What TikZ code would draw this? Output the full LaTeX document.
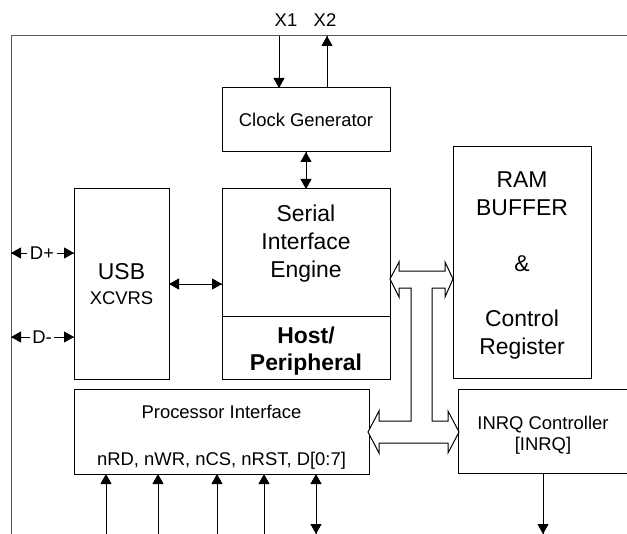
\documentclass[tikz,border=0pt]{standalone}
\usepackage{fontspec}
\setmainfont{Liberation Sans}
\usetikzlibrary{positioning, arrows.meta, decorations.markings, calc}

\begin{document}
\begin{tikzpicture}[%
		x=1bp, y=-1bp,
		line width=1bp,
		unit/.style={
			rectangle,
			anchor=north west,
			inner sep=0pt,
			outer sep=0pt,
			align=center,
			black,
			draw
		},
		bigtext/.style={
			font=\fontsize{23}{28.5}\selectfont
		},
		smalltext/.style={
			font=\fontsize{18.5}{22}\selectfont
		},
		pinlabel/.style={
			inner sep=2bp,
			font=\fontsize{18.5}{22}\selectfont
		},
		sigarrow/.style={
			decoration={markings,mark=at position 1 with {\arrow[>={Triangle[length=10bp,width=11bp]}]{>}}},
			postaction={decorate}
		},
		bidiarrow/.style={
			decoration={markings,
				mark=at position 0 with {\arrowreversed[>={Triangle[length=10bp,width=11bp]}]{>}},
				mark=at position 1 with {\arrow[>={Triangle[length=10bp,width=11bp]}]{>}}},
			postaction={decorate}
		},
		bus/.style={
			fill=white,
			line join=miter,
			draw
		}]

		\useasboundingbox (0,0) rectangle (627,534);
		\clip (0,0) rectangle (627,534);

		% CHIP OUTLINE

		\node (chip) [unit, draw=black!65, minimum width=650bp, minimum height=540bp] at (11,36) {};

		% BLOCKS

		\node (clock) [unit, smalltext, minimum width=168bp, minimum height=64bp] at (222,88) {Clock Generator};
		\node (sie) [unit, minimum width=168bp, minimum height=127bp] at (222,189) {};
		\node (sietext) [bigtext, align=center] at ([yshift=9bp]sie.center) {Serial\\Interface\\Engine};
		\node (host) [unit, font=\fontsize{23}{27}\selectfont\bfseries, minimum width=168bp, minimum height=63bp] at (222,316) {\rule{0pt}{24bp}Host/\\Peripheral};
		\node (usb) [unit, smalltext, minimum width=95bp, minimum height=190bp] at (74,189) {{\fontsize{23}{28.5}\selectfont USB}\\[3bp]XCVRS};
		\node (ram) [unit, bigtext, minimum width=138bp, minimum height=231bp] at (453,147) {\rule{0pt}{22bp}RAM\\BUFFER\\[27bp]\&\\[27bp]Control\\Register};
		\node (proc) [unit, smalltext, minimum width=295bp, minimum height=85bp] at (74,389) {\rule{0pt}{24bp}Processor Interface\\[25bp]nRD, nWR, nCS, nRST, D[0:7]};
		\node (inrq) [unit, smalltext, minimum width=170bp, minimum height=84bp] at (458,389) {\rule{0pt}{22bp}INRQ Controller\\[-1bp]{[INRQ]}};

		% PIN LABELS

		\node (x1) [pinlabel] at (286,20) {X1};
		\node (x2) [pinlabel] at (325,20) {X2};
		\node (dp) [pinlabel] at (42,253) {D+};
		\node (dm) [pinlabel] at (42,337) {D-};

		% CONNECTIONS

		\draw[sigarrow] (chip.north -| 279,0) -- (clock.north -| 279,0);
		\draw[sigarrow] (clock.north -| 327,0) -- (chip.north -| 327,0);
		\draw[bidiarrow] (clock.south) -- (sie.north);
		\draw[bidiarrow] (usb.east) -- (usb.east -| sie.west);

		\draw[sigarrow] (dp.west) -- (dp.west -| chip.west);
		\draw[sigarrow] (dp.east) -- (dp.east -| usb.west);
		\draw[sigarrow] (dm.west) -- (dm.west -| chip.west);
		\draw[sigarrow] (dm.east) -- (dm.east -| usb.west);

		\foreach \px in {106,158,217,264}
			\draw[sigarrow] (\px,534) -- (proc.south -| \px,0);
		\draw[bidiarrow] (316,534) -- (proc.south -| 316,0);
		\draw[sigarrow] (inrq.south) -- (inrq.south |- 0,534);

		% DATA BUS

		\draw[bus] (390,279) -- (399,262) -- (399,271) -- (445,271) -- (445,262) -- (453,279)
			-- (445,297) -- (445,288) -- (432,288) -- (432,421) -- (448,421) -- (448,411)
			-- (459,432) -- (448,453) -- (448,443) -- (379,443) -- (379,453) -- (368,432)
			-- (379,411) -- (379,421) -- (411,421) -- (411,288) -- (399,288) -- (399,297) -- cycle;
\end{tikzpicture}
\end{document}
